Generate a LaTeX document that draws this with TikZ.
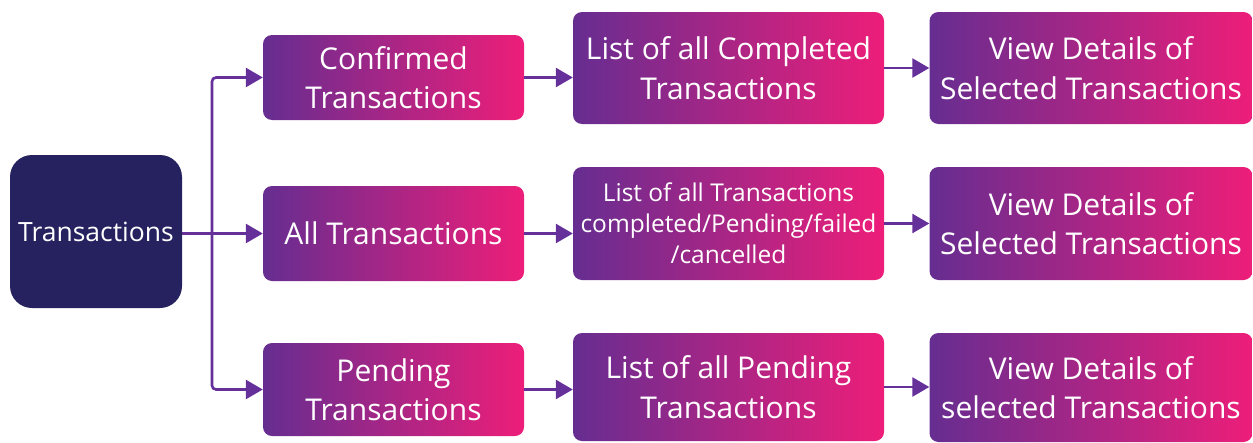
\documentclass[tikz,border=0pt]{standalone}
\usepackage{fontspec}
\setmainfont{Open Sans}
\usepackage{tikz}
\usetikzlibrary{arrows.meta}

\definecolor{navy}{HTML}{26225F}
\definecolor{grapeL}{HTML}{662D91}
\definecolor{pinkR}{HTML}{ED1E79}
\definecolor{linkc}{HTML}{66309A}

\begin{document}
\begin{tikzpicture}[x=1pt, y=-1pt,
		box/.style={rectangle, rounded corners=9pt, left color=grapeL, right color=pinkR,
			text=white, align=center, inner sep=0pt, font=\fontsize{30}{39.5}\selectfont},
		link/.style={draw=linkc, line width=2.6pt, -{Triangle[length=17pt, width=19pt]}}]
		\useasboundingbox (0,0) rectangle (1253,442);
		
		% The root box on the left
		\node[rectangle, rounded corners=22pt, fill=navy, text=white, inner sep=0pt,
			minimum width=172pt, minimum height=153pt, font=\fontsize{26.5}{30}\selectfont]
			(trans) at (96,231.5) {Transactions};
		
		% First column: the three filters
		\node[box, minimum width=261pt, minimum height=85pt] (confirmed) at (393.5,77.5) {Confirmed\\Transactions};
		\node[box, minimum width=261pt, minimum height=95pt] (alltx) at (393.5,233.5) {All Transactions};
		\node[box, minimum width=261pt, minimum height=93pt] (pending) at (393.5,389.5) {Pending\\Transactions};
		
		% Second column: the lists
		\node[box, minimum width=311pt, minimum height=112pt] (listdone) at (728.5,68) {List of all Completed\\Transactions};
		\node[box, minimum width=311pt, minimum height=113pt, font=\fontsize{24.5}{31}\selectfont]
			(listall) at (728.5,223.5) {List of all Transactions\\completed/Pending/failed\\/cancelled};
		\node[box, minimum width=311pt, minimum height=108pt] (listpend) at (728.5,387) {List of all Pending\\Transactions};
		
		% Third column: the details
		\node[box, minimum width=323pt, minimum height=112pt] (detailone) at (1091,68) {View Details of\\Selected Transactions};
		\node[box, minimum width=323pt, minimum height=113pt] (detailtwo) at (1091,223.5) {View Details of\\Selected Transactions};
		\node[box, minimum width=323pt, minimum height=109pt] (detailthree) at (1091,387.5) {View Details of\\selected Transactions};
		
		% Branching from the root
		\coordinate (split) at (212,233.5);
		\draw[link] (trans.east |- alltx) -- (alltx.west);
		\draw[link, rounded corners=4pt] (split) |- (confirmed.west);
		\draw[link, rounded corners=4pt] (split) |- (pending.west);
		
		% Row arrows
		\draw[link] (confirmed.east) -- (confirmed.east -| listdone.west);
		\draw[link] (alltx.east) -- (alltx.east -| listall.west);
		\draw[link] (pending.east) -- (pending.east -| listpend.west);
		\draw[link] (listdone.east) -- (listdone.east -| detailone.west);
		\draw[link] (listall.east) -- (listall.east -| detailtwo.west);
		\draw[link] (listpend.east) -- (listpend.east -| detailthree.west);
	\end{tikzpicture}
\end{document}
